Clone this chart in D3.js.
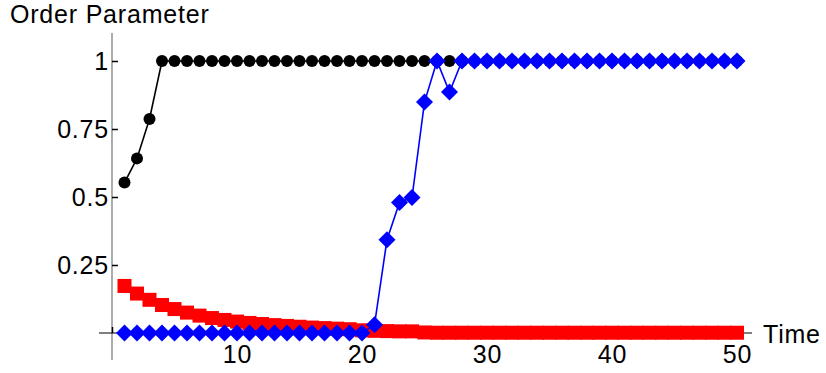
<!DOCTYPE html>
<html>
<head>
<meta charset="utf-8">
<script src="https://cdn.jsdelivr.net/npm/d3@7"></script>
<style>
  body { margin: 0; background: #fff; }
  text { font-family: "Liberation Sans", Arial, sans-serif; letter-spacing: 0.8px; }
</style>
</head>
<body>
<div id="chart"></div>
<script>
// time steps
const time = [1, 2, 3, 4, 5, 6, 7, 8, 9, 10, 11, 12, 13, 14, 15, 16, 17, 18, 19, 20,
              21, 22, 23, 24, 25, 26, 27, 28, 29, 30, 31, 32, 33, 34, 35, 36, 37, 38, 39, 40,
              41, 42, 43, 44, 45, 46, 47, 48, 49, 50];

// black circles
const blackSeries = [0.553, 0.642, 0.787, 1, 1, 1, 1, 1, 1, 1, 1, 1, 1, 1, 1, 1, 1, 1, 1, 1,
                     1, 1, 1, 1, 1, 1, 1, 1, 1, 1, 1, 1, 1, 1, 1, 1, 1, 1, 1, 1,
                     1, 1, 1, 1, 1, 1, 1, 1, 1, 1];

// red squares
const redSeries = [0.173, 0.145, 0.122, 0.103, 0.088, 0.075, 0.064, 0.055, 0.048, 0.042,
                   0.037, 0.033, 0.029, 0.026, 0.023, 0.020, 0.018, 0.016, 0.014, 0.010,
                   0.008, 0.007, 0.006, 0.006, 0.002, 0.001, 0.001, 0.001, 0.001, 0.001,
                   0.001, 0.001, 0.001, 0.001, 0.001, 0.001, 0.001, 0.001, 0.001, 0.001,
                   0.001, 0.001, 0.001, 0.001, 0.001, 0.001, 0.001, 0.001, 0.001, 0.001];

// blue diamonds
const blueSeries = [0, 0, 0, 0, 0, 0, 0, 0, 0, 0, 0, 0, 0, 0, 0, 0, 0, 0, 0, 0,
                    0.03, 0.343, 0.48, 0.498, 0.849, 1, 0.886, 1, 1, 1, 1, 1, 1, 1, 1, 1, 1, 1, 1, 1,
                    1, 1, 1, 1, 1, 1, 1, 1, 1, 1];

const xTicks = [0, 10, 20, 30, 40, 50];
const yTicks = [0.25, 0.5, 0.75, 1];
const yTickLabels = ["0.25", "0.5", "0.75", "1"];

const width = 826;
const height = 373;
const fontSize = 25;

const svg = d3.select("#chart")
    .append("svg")
    .attr("width", width)
    .attr("height", height);

const x = d3.scaleLinear().domain([0, 50]).range([112, 737]);
const y = d3.scaleLinear().domain([0, 1]).range([333, 61]);

// y axis line (grey), drawn through the origin
svg.append("line")
    .attr("x1", x(0)).attr("x2", x(0))
    .attr("y1", y(1.103)).attr("y2", y(-0.099))
    .attr("stroke", "#808080")
    .attr("stroke-width", 1.3);

// x axis line
svg.append("line")
    .attr("x1", x(-1.04)).attr("x2", x(51.2))
    .attr("y1", y(0)).attr("y2", y(0))
    .attr("stroke", "#000")
    .attr("stroke-width", 1.2);

// y ticks point inward (to the right)
const yAxis = svg.append("g")
    .attr("transform", `translate(${x(0)},0)`)
    .call(d3.axisLeft(y)
        .tickValues(yTicks)
        .tickFormat((d, i) => yTickLabels[i])
        .tickSizeInner(-6)
        .tickSizeOuter(0)
        .tickPadding(3));
yAxis.select(".domain").remove();
yAxis.selectAll(".tick line").attr("stroke", "#000").attr("stroke-width", 1.5);
yAxis.selectAll(".tick text")
    .attr("font-size", fontSize)
    .attr("font-family", null)
    .attr("fill", "#000")
    .attr("dy", "0.35em");

// x ticks point upward
const xAxis = svg.append("g")
    .attr("transform", `translate(0,${y(0)})`)
    .call(d3.axisBottom(x)
        .tickValues(xTicks)
        .tickFormat(d => d === 0 ? "" : d)
        .tickSizeInner(-6)
        .tickSizeOuter(0)
        .tickPadding(12));
xAxis.select(".domain").remove();
xAxis.selectAll(".tick line").attr("stroke", "#000").attr("stroke-width", 1.5);
xAxis.selectAll(".tick text")
    .attr("font-size", fontSize)
    .attr("font-family", null)
    .attr("fill", "#000");

// axis labels
svg.append("text")
    .attr("x", 10)
    .attr("y", 23)
    .attr("font-size", fontSize)
    .attr("fill", "#000")
    .text("Order Parameter");

svg.append("text")
    .attr("x", 763)
    .attr("y", 343)
    .attr("font-size", fontSize)
    .attr("fill", "#000")
    .text("Time");

const line = d3.line()
    .x(d => x(d.t))
    .y(d => y(d.v));

const toPoints = vals => time.map((t, i) => ({ t: t, v: vals[i] }));

// black series
const blackPts = toPoints(blackSeries);
svg.append("path")
    .datum(blackPts)
    .attr("d", line)
    .attr("fill", "none")
    .attr("stroke", "#000")
    .attr("stroke-width", 1.6);
svg.append("g")
    .selectAll("circle")
    .data(blackPts)
    .enter().append("circle")
    .attr("cx", d => x(d.t))
    .attr("cy", d => y(d.v))
    .attr("r", 6)
    .attr("fill", "#000");

// red series
const redPts = toPoints(redSeries);
svg.append("path")
    .datum(redPts)
    .attr("d", line)
    .attr("fill", "none")
    .attr("stroke", "#ff0000")
    .attr("stroke-width", 1.6);
svg.append("g")
    .selectAll("rect")
    .data(redPts)
    .enter().append("rect")
    .attr("x", d => x(d.t) - 7)
    .attr("y", d => y(d.v) - 7)
    .attr("width", 14)
    .attr("height", 14)
    .attr("fill", "#ff0000");

// blue series
const bluePts = toPoints(blueSeries);
svg.append("path")
    .datum(bluePts)
    .attr("d", line)
    .attr("fill", "none")
    .attr("stroke", "#0000ff")
    .attr("stroke-width", 1.6);
svg.append("g")
    .selectAll("path")
    .data(bluePts)
    .enter().append("path")
    .attr("d", "M0,-8.5L8.5,0L0,8.5L-8.5,0Z")
    .attr("transform", d => `translate(${x(d.t)},${y(d.v)})`)
    .attr("fill", "#0000ff");
</script>
</body>
</html>
